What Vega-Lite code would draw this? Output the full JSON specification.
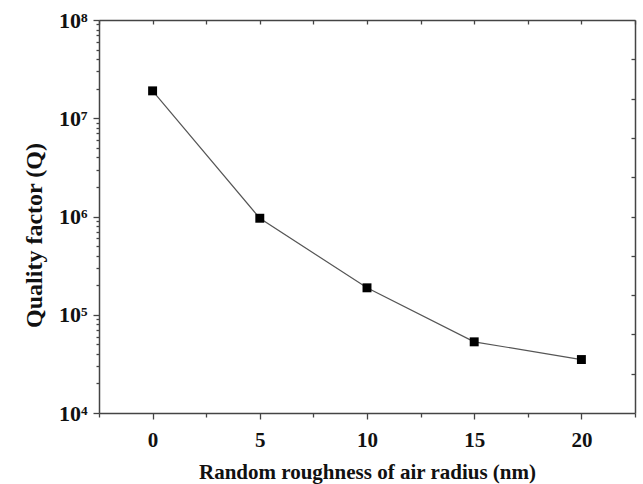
{
  "$schema": "https://vega.github.io/schema/vega-lite/v6.json",
  "autosize": {"type": "none"},
  "padding": {"left": 99, "top": 20, "right": 8, "bottom": 71},
  "width": 536,
  "height": 393,
  "background": "white",
  "config": {
    "view": {"stroke": null},
    "axis": {
      "grid": false,
      "domainColor": "#444",
      "domainWidth": 1.5,
      "tickColor": "#444",
      "tickWidth": 1.3,
      "labelFont": "Liberation Serif",
      "labelFontWeight": "bold",
      "labelColor": "#111",
      "titleFont": "Liberation Serif",
      "titleFontWeight": "bold",
      "titleColor": "#111"
    }
  },
  "data": {
    "values": [
      {"roughness": 0, "Q": 19000000},
      {"roughness": 5, "Q": 960000},
      {"roughness": 10, "Q": 188000},
      {"roughness": 15, "Q": 53000},
      {"roughness": 20, "Q": 35000}
    ]
  },
  "encoding": {
    "x": {"field": "roughness", "type": "quantitative", "scale": {"domain": [-2.5, 22.5], "nice": false, "zero": false}},
    "y": {"field": "Q", "type": "quantitative", "scale": {"type": "log", "domain": [10000, 100000000], "nice": false}}
  },
  "layer": [
    {
      "mark": {"type": "line", "color": "#555", "strokeWidth": 1.2},
      "encoding": {
        "x": {
          "field": "roughness", "type": "quantitative",
          "axis": {
            "orient": "bottom",
            "title": "Random roughness of air radius (nm)",
            "titleFontSize": 21,
            "titlePadding": 11,
            "values": [-2.5, 0, 2.5, 5, 7.5, 10, 12.5, 15, 17.5, 20, 22.5],
            "labelExpr": "datum.value % 5 == 0 ? datum.label : ''",
            "labelFontSize": 21,
            "labelPadding": 10,
            "tickSize": {"condition": {"test": "datum.value % 5 == 0", "value": 6}, "value": 4}
          }
        },
        "y": {
          "field": "Q", "type": "quantitative",
          "axis": {
            "orient": "left",
            "title": "Quality factor (Q)",
            "titleFontSize": 24,
            "titlePadding": 12,
            "titleY": 215,
            "values": [10000, 20000, 30000, 40000, 50000, 60000, 70000, 80000, 90000,
                       100000, 200000, 300000, 400000, 500000, 600000, 700000, 800000, 900000,
                       1000000, 2000000, 3000000, 4000000, 5000000, 6000000, 7000000, 8000000, 9000000,
                       10000000, 20000000, 30000000, 40000000, 50000000, 60000000, 70000000, 80000000, 90000000,
                       100000000],
            "labelExpr": "abs(log(datum.value)/log(10) - round(log(datum.value)/log(10))) < 0.001 ? '10' + ['⁰','¹','²','³','⁴','⁵','⁶','⁷','⁸','⁹'][round(log(datum.value)/log(10))] : ''",
            "labelFontSize": 22,
            "labelPadding": 6,
            "tickSize": {"condition": {"test": "abs(log(datum.value)/log(10) - round(log(datum.value)/log(10))) < 0.001", "value": 6}, "value": 3}
          }
        }
      }
    },
    {
      "mark": {"type": "point", "shape": "square", "filled": true, "color": "#000", "size": 80, "opacity": 1},
      "encoding": {
        "x": {
          "field": "roughness", "type": "quantitative",
          "axis": {
            "orient": "top",
            "title": null,
            "labels": false,
            "values": [-2.5, 0, 2.5, 5, 7.5, 10, 12.5, 15, 17.5, 20, 22.5],
            "tickSize": -4
          }
        },
        "y": {
          "field": "Q", "type": "quantitative",
          "axis": {
            "orient": "right",
            "title": null,
            "labels": false,
            "values": [39810717, 15848932, 6309573, 2511886, 1000000, 398107, 158489, 63096, 25119],
            "tickSize": -4
          }
        }
      }
    }
  ],
  "resolve": {"axis": {"x": "independent", "y": "independent"}}
}
